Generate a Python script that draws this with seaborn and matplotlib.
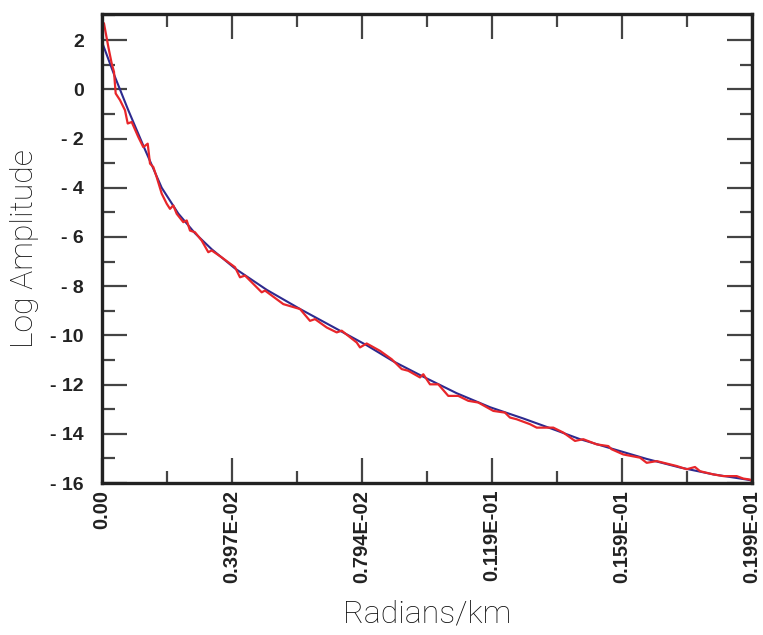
import matplotlib
matplotlib.use("Agg")
import matplotlib.pyplot as plt
import seaborn as sns
import pandas as pd
from matplotlib.ticker import FixedLocator, NullFormatter

# ---- data ----
blue_x = [0.0, 0.000397, 0.000803, 0.001313, 0.001823, 0.00233, 0.00284, 0.00335,
          0.00406, 0.00503, 0.00605, 0.00706, 0.00808, 0.00889, 0.00981, 0.01083,
          0.01185, 0.01287, 0.01389, 0.0146, 0.01561, 0.01663, 0.01765, 0.01867,
          0.01969, 0.01985]
blue_y = [1.92, 0.50, -0.85, -2.45, -4.0, -5.05, -5.85, -6.50,
          -7.28, -8.15, -8.93, -9.66, -10.40, -11.05, -11.68, -12.35,
          -12.92, -13.38, -13.87, -14.22, -14.62, -15.02, -15.37, -15.65,
          -15.86, -15.90]

red_x = [0.0, 0.00006, 0.000192, 0.000296, 0.000366, 0.000418, 0.00055, 0.000702,
         0.000785, 0.000907, 0.001109, 0.001261, 0.001396, 0.001466, 0.001567,
         0.00167, 0.001823, 0.001976, 0.002077, 0.002177, 0.002281, 0.002483,
         0.002587, 0.002687, 0.00284, 0.003045, 0.003246, 0.00335, 0.003655,
         0.003857, 0.004062, 0.004214, 0.004367, 0.004877, 0.004978, 0.005537,
         0.006047, 0.006352, 0.006505, 0.006862, 0.007167, 0.00732, 0.007778,
         0.007879, 0.008083, 0.00849, 0.008847, 0.009152, 0.009354, 0.009711,
         0.009812, 0.010016, 0.01027, 0.010575, 0.010881, 0.011186, 0.011492,
         0.01195, 0.012307, 0.012459, 0.012664, 0.01307, 0.013275, 0.013782,
         0.014087, 0.014444, 0.014698, 0.015107, 0.015462, 0.015565, 0.01592,
         0.016429, 0.016634, 0.016939, 0.01755, 0.017856, 0.018109, 0.018262,
         0.018668, 0.018973, 0.019382, 0.019584, 0.019789, 0.01985]
red_y = [2.75, 2.68, 1.73, 1.05, 0.71, -0.17, -0.44, -0.85,
         -1.39, -1.33, -1.94, -2.35, -2.21, -3.02, -3.16,
         -3.57, -4.24, -4.65, -4.86, -4.72, -5.06, -5.40,
         -5.33, -5.74, -5.81, -6.15, -6.62, -6.55, -6.83,
         -7.03, -7.23, -7.64, -7.57, -8.25, -8.18, -8.73,
         -8.93, -9.41, -9.34, -9.68, -9.88, -9.81, -10.29,
         -10.49, -10.33, -10.63, -10.97, -11.37, -11.44, -11.71,
         -11.58, -11.99, -11.99, -12.46, -12.46, -12.66, -12.73,
         -13.07, -13.14, -13.34, -13.41, -13.61, -13.75, -13.75,
         -13.95, -14.29, -14.22, -14.43, -14.50, -14.63, -14.84,
         -14.97, -15.18, -15.11, -15.31, -15.44, -15.35, -15.52,
         -15.65, -15.72, -15.72, -15.82, -15.86, -15.93]

x_ticks = [0.0, 0.00397, 0.00794, 0.01191, 0.01588, 0.01985]
x_tick_labels = ["0.00", "0.397E-02", "0.794E-02", "0.119E-01", "0.159E-01", "0.199E-01"]
y_ticks = [-16, -14, -12, -10, -8, -6, -4, -2, 0, 2]
y_tick_labels = ["- 16", "- 14", "- 12", "- 10", "- 8", "- 6", "- 4", "- 2", "0", "2"]

# ---- plotting ----
sns.set_theme(style="white")
plt.rcParams["font.family"] = ["Liberation Sans", "DejaVu Sans"]

fig = plt.figure(figsize=(7.63, 6.35), dpi=100)
ax = fig.add_axes([102 / 763, 1 - 483 / 635, 650 / 763, 469 / 635])

df_blue = pd.DataFrame({"x": blue_x, "y": blue_y})
df_red = pd.DataFrame({"x": red_x, "y": red_y})
sns.lineplot(data=df_blue, x="x", y="y", ax=ax, color="#2d2a8f", linewidth=1.5,
             estimator=None, sort=False)
sns.lineplot(data=df_red, x="x", y="y", ax=ax, color="#e8262a", linewidth=1.6,
             estimator=None, sort=False)

ax.set_xlim(0, 0.01985)
ax.set_ylim(-16, 3.06)

ax.xaxis.set_major_locator(FixedLocator(x_ticks))
ax.set_xticklabels(x_tick_labels, rotation=90, fontsize=14.5, fontweight="bold",
                   color="#222222")
minor_x = [(x_ticks[i] + x_ticks[i + 1]) / 2 for i in range(len(x_ticks) - 1)]
ax.xaxis.set_minor_locator(FixedLocator(minor_x))
ax.xaxis.set_minor_formatter(NullFormatter())

ax.yaxis.set_major_locator(FixedLocator(y_ticks))
ax.set_yticklabels(y_tick_labels, fontsize=14, fontweight="bold", color="#222222")
minor_y = [v + 1 for v in y_ticks[:-1]] + [3]
ax.yaxis.set_minor_locator(FixedLocator(minor_y))
ax.yaxis.set_minor_formatter(NullFormatter())

ax.tick_params(axis="both", which="major", direction="in", length=18, width=1.6,
               color="#444444", top=True, right=True, bottom=True, left=True)
ax.tick_params(axis="both", which="minor", direction="in", length=9, width=1.6,
               color="#444444", top=True, right=True, bottom=True, left=True)
ax.tick_params(axis="y", which="major", pad=13)
ax.tick_params(axis="x", which="major", pad=5)

for sp in ax.spines.values():
    sp.set_visible(True)
    sp.set_linewidth(2.4)
    sp.set_color("#222222")

ax.set_xlabel("Radians/km", fontsize=23, family=["Roboto", "DejaVu Sans"],
              fontweight="light", color="#111111", labelpad=12)
ax.set_ylabel("Log Amplitude", fontsize=23, family=["Roboto", "DejaVu Sans"],
              fontweight="light", color="#111111", labelpad=8)
ax.grid(False)

fig.savefig("out.png", dpi=100, facecolor="white")
